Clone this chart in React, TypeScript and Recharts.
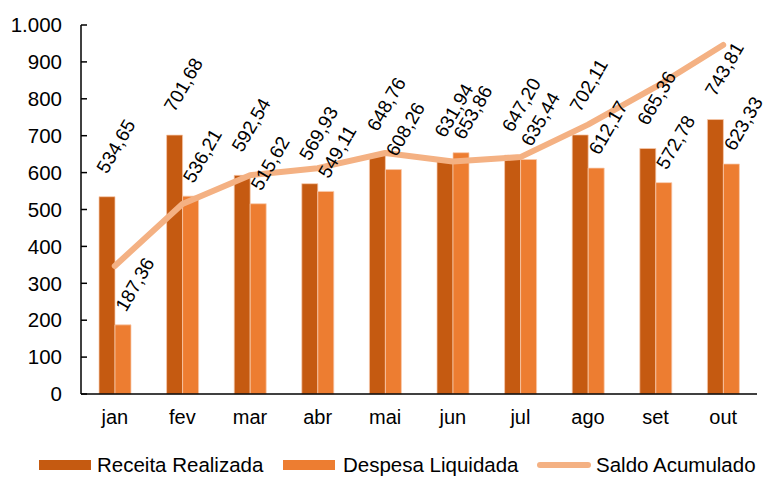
import { ComposedChart, Bar, Line, XAxis, YAxis, Legend, LabelList } from 'recharts';

const months = ['jan', 'fev', 'mar', 'abr', 'mai', 'jun', 'jul', 'ago', 'set', 'out'];
const receita = [534.65, 701.68, 592.54, 569.93, 648.76, 631.94, 647.2, 702.11, 665.36, 743.81];
const despesa = [187.36, 536.21, 515.62, 549.11, 608.26, 653.86, 635.44, 612.17, 572.78, 623.33];
const saldo = [347, 515, 593, 612, 653, 630, 642, 730, 832, 946];
const yTicks = [0, 100, 200, 300, 400, 500, 600, 700, 800, 900, 1000];

const data = months.map((m, i) => ({
  month: m,
  receita: receita[i],
  despesa: despesa[i],
  saldo: saldo[i],
}));

const FONT = '"Liberation Sans", Arial, sans-serif';
const C_RECEITA = '#C55A11';
const C_DESPESA = '#ED7D31';
const C_SALDO = '#F4B183';

const fmtValue = (v: number) => v.toFixed(2).replace('.', ',');
const fmtTick = (v: number) => (v >= 1000 ? v.toLocaleString('en-US').replace(',', '.') : String(v));

function rotatedLabel(dx: number, dy: number) {
  return (props: any) => {
    const { x, y, width, value } = props;
    const px = Number(x) + Number(width) / 2 + dx;
    const py = Number(y) + dy;
    return (
      <text
        x={px}
        y={py}
        transform={`rotate(-60 ${px} ${py})`}
        fontSize={19}
        fontFamily={FONT}
        fill="#000"
      >
        {fmtValue(Number(value))}
      </text>
    );
  };
}

function ChartLegend() {
  const items = [
    { label: 'Receita Realizada', color: C_RECEITA, sw: 39, tx: 97, line: false },
    { label: 'Despesa Liquidada', color: C_DESPESA, sw: 283, tx: 343, line: false },
    { label: 'Saldo Acumulado', color: C_SALDO, sw: 537, tx: 596, line: true },
  ];
  return (
    <div style={{ position: 'relative', width: 763, height: 44, fontFamily: FONT }}>
      {items.map((it) => (
        <div key={it.label}>
          <div
            style={{
              position: 'absolute',
              left: it.sw,
              top: it.line ? 28 : 26,
              width: it.line ? 54 : 52,
              height: it.line ? 6 : 10,
              borderRadius: it.line ? 3 : 0,
              background: it.color,
            }}
          />
          <div
            style={{
              position: 'absolute',
              left: it.tx,
              top: 20,
              fontSize: 20.5,
              lineHeight: '22px',
              color: '#000',
              whiteSpace: 'nowrap',
            }}
          >
            {it.label}
          </div>
        </div>
      ))}
    </div>
  );
}

export default function App() {
  return (
    <div style={{ position: 'absolute', left: 0, top: 0, background: '#fff' }}>
      <ComposedChart
        width={763}
        height={478}
        data={data}
        margin={{ top: 25, right: 6, bottom: 0, left: 0 }}
        barGap={0}
      >
        <XAxis
          dataKey="month"
          height={40}
          tickLine={false}
          axisLine={{ stroke: '#000', strokeWidth: 1.5 }}
          tick={{ fill: '#000', fontSize: 20, fontFamily: FONT }}
          tickMargin={10}
        />
        <YAxis
          width={81}
          domain={[0, 1000]}
          ticks={yTicks}
          tickFormatter={fmtTick}
          axisLine={{ stroke: '#000', strokeWidth: 1.5 }}
          tickLine={{ stroke: '#000', strokeWidth: 1.5 }}
          tickSize={-6}
          tickMargin={25}
          tick={{ fill: '#000', fontSize: 20.5, fontFamily: FONT }}
          interval={0}
        />
        <Legend
          verticalAlign="bottom"
          height={44}
          wrapperStyle={{ left: 0, width: 763 }}
          content={() => <ChartLegend />}
        />
        <Bar
          dataKey="receita"
          name="Receita Realizada"
          fill={C_RECEITA}
          stroke="#F8CBAD"
          strokeWidth={0.75}
          barSize={16}
          isAnimationActive={false}
        >
          <LabelList dataKey="receita" content={rotatedLabel(0, -22)} />
        </Bar>
        <Bar
          dataKey="despesa"
          name="Despesa Liquidada"
          fill={C_DESPESA}
          stroke="#F8CBAD"
          strokeWidth={0.75}
          barSize={16}
          isAnimationActive={false}
        >
          <LabelList dataKey="despesa" content={rotatedLabel(3, -12)} />
        </Bar>
        <Line
          type="linear"
          dataKey="saldo"
          name="Saldo Acumulado"
          stroke={C_SALDO}
          strokeWidth={6}
          strokeLinecap="round"
          strokeLinejoin="round"
          dot={false}
          activeDot={false}
          isAnimationActive={false}
        />
      </ComposedChart>
    </div>
  );
}
